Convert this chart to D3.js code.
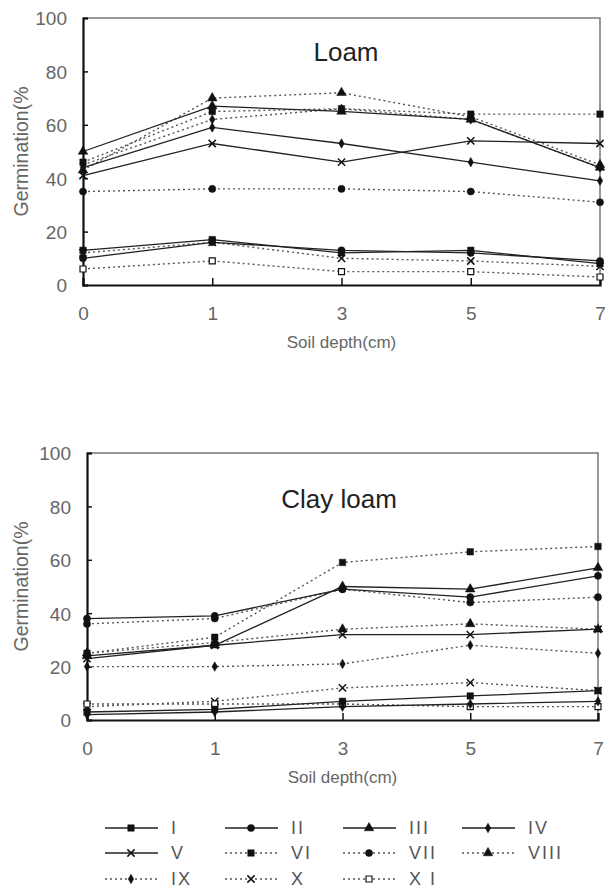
<!DOCTYPE html>
<html>
<head>
<meta charset="utf-8">
<script src="https://cdn.jsdelivr.net/npm/d3@7"></script>
<style>
  body { margin: 0; background: #fff; }
  svg text { font-family: "Liberation Sans", Arial, sans-serif; }
</style>
</head>
<body>
<svg id="chart" width="605" height="892"></svg>
<script>
const depths = ["0", "1", "3", "5", "7"];
const yTicks = [0, 20, 40, 60, 80, 100];
const seriesNames = ["I", "II", "III", "IV", "V", "VI", "VII", "VIII", "IX", "X", "X I"];

// Loam, germination % per depth (one row per series I..XI)
const loamI    = [13, 17, 12, 13, 8];
const loamII   = [10, 16, 13, 12, 9];
const loamIII  = [50, 67, 65, 62, 44];
const loamIV   = [44, 59, 53, 46, 39];
const loamV    = [41, 53, 46, 54, 53];
const loamVI   = [46, 65, 66, 64, 64];
const loamVII  = [35, 36, 36, 35, 31];
const loamVIII = [43, 70, 72, 63, 45];
const loamIX   = [45, 62, 66, 62, 44];
const loamX    = [12, 16, 10, 9, 7];
const loamXI   = [6, 9, 5, 5, 3];

// Clay loam
const clayI    = [3, 4, 7, 9, 11];
const clayII   = [38, 39, 49, 46, 54];
const clayIII  = [24, 28, 50, 49, 57];
const clayIV   = [2, 3, 5, 6, 7];
const clayV    = [23, 28, 32, 32, 34];
const clayVI   = [25, 31, 59, 63, 65];
const clayVII  = [36, 38, 49, 44, 46];
const clayVIII = [25, 29, 34, 36, 34];
const clayIX   = [20, 20, 21, 28, 25];
const clayX    = [5, 7, 12, 14, 11];
const clayXI   = [6, 6, 6, 5, 5];

const loam = [loamI, loamII, loamIII, loamIV, loamV, loamVI, loamVII, loamVIII, loamIX, loamX, loamXI];
const clay = [clayI, clayII, clayIII, clayIV, clayV, clayVI, clayVII, clayVIII, clayIX, clayX, clayXI];

// marker + line style for each series
const styles = [
  {sym: d3.symbolSquare,   size: 42, dotted: false, open: false},
  {sym: d3.symbolCircle,   size: 40, dotted: false, open: false},
  {sym: d3.symbolTriangle, size: 40, dotted: false, open: false},
  {sym: d3.symbolDiamond,  size: 26, dotted: false, open: false},
  {sym: d3.symbolX,        size: 36, dotted: false, open: false, stroke: true},
  {sym: d3.symbolSquare,   size: 42, dotted: true,  open: false},
  {sym: d3.symbolCircle,   size: 40, dotted: true,  open: false},
  {sym: d3.symbolTriangle, size: 40, dotted: true,  open: false},
  {sym: d3.symbolDiamond,  size: 26, dotted: true,  open: false},
  {sym: d3.symbolX,        size: 36, dotted: true,  open: false, stroke: true},
  {sym: d3.symbolSquare,   size: 36, dotted: true,  open: true}
];

const svg = d3.select("#chart");

function styleLine(sel, st){
  sel.attr("fill", "none")
     .attr("stroke", st.dotted ? "#555" : "#222")
     .attr("stroke-width", st.dotted ? 1.4 : 1.3)
     .attr("stroke-dasharray", st.dotted ? "2,3" : null);
}
function styleMarker(sel, st){
  sel.attr("d", d3.symbol().type(st.sym).size(st.size))
     .attr("fill", st.stroke ? "none" : (st.open ? "#fff" : "#111"))
     .attr("stroke", "#111")
     .attr("stroke-width", st.stroke ? 1.5 : (st.open ? 1.2 : 0.5));
}

function drawPanel(data, box, title, titlePos){
  let x = d3.scalePoint().domain(depths).range([box.left, box.right]);
  let y = d3.scaleLinear().domain([0, 100]).range([box.bottom, box.top]);
  let g = svg.append("g");

  // frame: light top and right edges
  g.append("path")
   .attr("d", "M" + box.left + "," + box.top + "H" + box.right + "V" + box.bottom)
   .attr("fill", "none").attr("stroke", "#777").attr("stroke-width", 1.5);

  // axes
  let ax = g.append("g")
   .attr("transform", "translate(0," + box.bottom + ")")
   .call(d3.axisBottom(x).tickSize(-7).tickPadding(22));
  let ay = g.append("g")
   .attr("transform", "translate(" + box.left + ",0)")
   .call(d3.axisLeft(y).tickValues(yTicks).tickSize(-5).tickPadding(16));
  [ax, ay].forEach(a => {
    a.select(".domain").attr("stroke", "#111").attr("stroke-width", 2.2);
    a.selectAll(".tick line").attr("stroke", "#111").attr("stroke-width", 1.5);
    a.selectAll(".tick text").attr("fill", "#666").style("font-size", "19px");
  });
  ay.selectAll(".tick text").attr("dy", "0.36em");

  g.append("text")
   .attr("x", (box.left + box.right) / 2)
   .attr("y", box.bottom + 63)
   .attr("text-anchor", "middle")
   .attr("fill", "#666")
   .style("font-size", "17px")
   .text("Soil depth(cm)");
  g.append("text")
   .attr("transform", "translate(" + 28 + "," + ((box.top + box.bottom) / 2) + ") rotate(-90)")
   .attr("text-anchor", "middle")
   .attr("fill", "#666")
   .style("font-size", "19.5px")
   .text("Germination(%");
  g.append("text")
   .attr("x", titlePos[0]).attr("y", titlePos[1])
   .attr("text-anchor", "middle")
   .attr("fill", "#222")
   .style("font-size", "26px")
   .text(title);

  let line = d3.line().x((d, i) => x(depths[i])).y(d => y(d));
  // dotted first, solid on top
  let order = d3.range(data.length).sort((a, b) => (styles[b].dotted - styles[a].dotted));
  order.forEach(k => {
    let st = styles[k];
    g.append("path").datum(data[k]).attr("d", line).call(styleLine, st);
  });
  order.forEach(k => {
    let st = styles[k];
    g.selectAll(null).data(data[k]).enter().append("path")
     .attr("transform", (d, i) => "translate(" + x(depths[i]) + "," + y(d) + ")")
     .call(styleMarker, st);
  });
}

drawPanel(loam, {left: 83, right: 600, top: 18, bottom: 285}, "Loam", [346, 61]);
drawPanel(clay, {left: 87, right: 598, top: 453, bottom: 720}, "Clay loam", [339, 508]);

// legend
const legCols = [105, 225, 343, 462];
const legRows = [828, 853, 879];
const legend = svg.append("g").selectAll("g")
  .data(seriesNames)
  .enter().append("g")
  .attr("transform", (d, i) => "translate(" + legCols[i % 4] + "," + legRows[Math.floor(i / 4)] + ")");
legend.each(function(d, i){
  let st = styles[i];
  let s = d3.select(this);
  s.append("line").attr("x1", 0).attr("x2", 53).attr("y1", 0).attr("y2", 0).call(styleLine, st);
  s.append("path").attr("transform", "translate(26,0)").call(styleMarker, st);
  s.append("text")
   .attr("x", 66).attr("y", 0).attr("dy", "0.36em")
   .attr("fill", "#555")
   .style("font-size", "18px")
   .style("letter-spacing", "2px")
   .text(d);
});
</script>
</body>
</html>
